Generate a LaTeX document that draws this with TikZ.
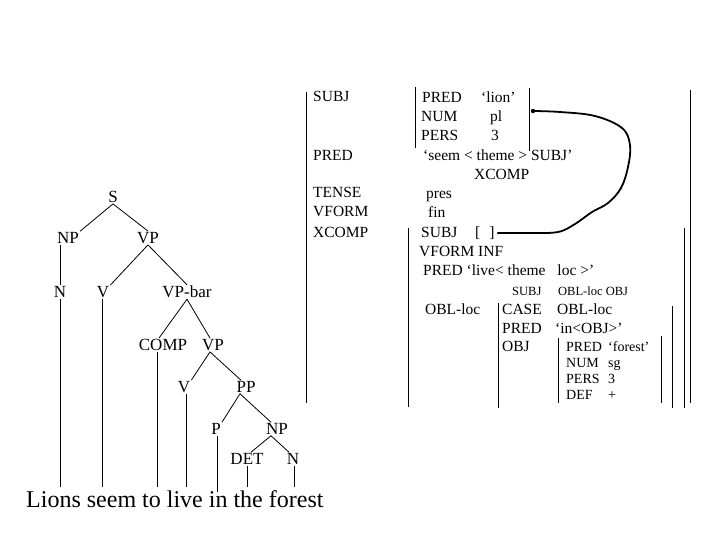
\documentclass[tikz,border=0pt]{standalone}
\usepackage{fontspec}
\setmainfont{Liberation Serif}
\newcommand\myfs[1]{\fontsize{#1}{#1}\selectfont}
\begin{document}
\begin{tikzpicture}[x=1pt,y=-1pt,
  tr/.style={inner sep=1pt,font=\myfs{17}},
  fs/.style={inner sep=0pt,anchor=base west,font=\myfs{15.5}},
  fsm/.style={inner sep=0pt,anchor=base west,font=\myfs{12.5}},
  fsf/.style={inner sep=0pt,anchor=base west,font=\myfs{14}},
  edge/.style={line width=0.8pt},
  brk/.style={line width=0.9pt},
  link/.style={line width=1.8pt,line cap=round}]
\useasboundingbox (0,0) rectangle (720,540);
% ---------- tree ----------
\node[tr] (S) at (113,197) {S};
\node[tr] (NP) at (68,238) {NP};
\node[tr] (VP) at (148,238) {VP};
\node[tr] (N) at (60,292) {N};
\node[tr] (V) at (103,292) {V};
\node[tr] (VPbar) at (187,292) {VP-bar};
\node[tr] (COMP) at (163,345) {COMP};
\node[tr] (VPb) at (213,345) {VP};
\node[tr] (Vb) at (184,387) {V};
\node[tr] (PP) at (246,387) {PP};
\node[tr] (P) at (216,429) {P};
\node[tr] (NPb) at (277,429) {NP};
\node[tr] (DET) at (247,459) {DET};
\node[tr] (Nb) at (293,459) {N};
\node[inner sep=0pt,anchor=base west,font=\myfs{24}] (sent) at (26,507) {Lions seem to live in the forest};
\coordinate (base) at (0,487);
\draw[edge] (S.south) -- (NP.north east);
\draw[edge] (S.south) -- (VP.north);
\draw[edge] (NP.south -| N) -- (N.north);
\draw[edge] (VP.south) -- (V.north east);
\draw[edge] (VP.south) -- (VPbar.north);
\draw[edge] (VPbar.south) -- ([xshift=-4pt]COMP.north);
\draw[edge] (VPbar.south) -- ([xshift=-3pt]VPb.north);
\draw[edge] ([xshift=-3pt]VPb.south) -- (Vb.north east);
\draw[edge] ([xshift=-3pt]VPb.south) -- ([xshift=-5pt]PP.north);
\draw[edge] ([xshift=-6pt]PP.south) -- (P.north east);
\draw[edge] ([xshift=-6pt]PP.south) -- ([xshift=-6pt]NPb.north);
\draw[edge] ([xshift=-6pt]NPb.south) -- ([xshift=4pt]DET.north);
\draw[edge] ([xshift=-6pt]NPb.south) -- ([xshift=-4pt]Nb.north);
\draw[edge] (N.south) -- (N.south |- base);
\draw[edge] ([xshift=-1pt]V.south) -- ([xshift=-1pt]V.south |- base);
\draw[edge] ([xshift=-6pt]COMP.south) -- ([xshift=-6pt]COMP.south |- base);
\draw[edge] ([xshift=2pt]Vb.south) -- ([xshift=2pt]Vb.south |- base);
\draw[edge] ([xshift=1pt]P.south) -- ([xshift=1pt,yshift=-5pt]P.south |- base);
\draw[edge] (DET.south) -- (DET.south |- base);
\draw[edge] ([xshift=1pt]Nb.south) -- ([xshift=1pt]Nb.south |- base);
% ---------- f-structure brackets ----------
\draw[brk] (306,92) -- (306,403);
\draw[brk] (690,90) -- (690,403);
\draw[brk] (415,87) -- (415,148);
\draw[brk] (529,88) -- (529,151);
\draw[brk] (408,228) -- (408,407);
\draw[brk] (684,228) -- (684,408);
\draw[brk] (498,303) -- (498,408);
\draw[brk] (672,306) -- (672,408);
\draw[brk] (558,338) -- (558,403);
\draw[brk] (661,336) -- (661,403);
% ---------- f-structure text ----------
\node[fs] (a1) at (313,102) {SUBJ};
\node[fs] (a2) at (313,161) {PRED};
\node[fs] (a3) at (313,198) {TENSE};
\node[fs] (a4) at (313,217) {VFORM};
\node[fs] (a5) at (313,237) {XCOMP};
\node[fs] (b1) at (422,103) {PRED};
\node[fs] (b1v) at (481,103) {‘lion’};
\node[fs] (b2) at (421,122) {NUM};
\node[fs] (b2v) at (490,122) {pl};
\node[fs] (b3) at (421,141) {PERS};
\node[fs] (b3v) at (491,141) {3};
\node[fs] (c1) at (423,161) {‘seem < theme > SUBJ’};
\node[fs] (c2) at (474,180) {XCOMP};
\node[fs] (c3) at (426,199) {pres};
\node[fs] (c4) at (428,218) {fin};
\node[fs] (d1) at (421,237) {SUBJ};
\node[fs] (d1v) at (475,237) {[\hspace{9pt}]};
\node[fs] (d2) at (419,256) {VFORM INF};
\node[fs] (d3) at (423,275) {PRED ‘live< theme\hspace{8pt} loc >’};
\node[fsm] (e1) at (512,295) {SUBJ};
\node[fsm] (e2) at (558,295) {OBL-loc OBJ};
\node[fs] (f1) at (425,314) {OBL-loc};
\node[fs] (f2) at (502,314) {CASE};
\node[fs] (f2v) at (557,314) {OBL-loc};
\node[fs] (f3) at (502,333) {PRED};
\node[fs] (f3v) at (555,333) {‘in<OBJ>’};
\node[fs] (f4) at (502,351) {OBJ};
\node[fsf] (g1) at (566,351) {PRED};
\node[fsf] (g1v) at (608,351) {‘forest’};
\node[fsf] (g2) at (566,367) {NUM};
\node[fsf] (g2v) at (608,367) {sg};
\node[fsf] (g3) at (566,383) {PERS};
\node[fsf] (g3v) at (608,383) {3};
\node[fsf] (g4) at (566,399) {DEF};
\node[fsf] (g4v) at (608,399) {+};
% ---------- structure-sharing link ----------
\coordinate (lstart) at (533,111);
\coordinate (lend) at ([xshift=3pt]d1v.east |- 0,233);
\fill (lstart) circle (2.2pt);
\draw[link] plot[smooth,tension=0.6] coordinates {(lstart) (560,112) (595,116) (622,128) (630,145) (628,167) (621,188) (608,203) (592,212) (575,224) (558,232) (530,233) (lend)};
\end{tikzpicture}
\end{document}
